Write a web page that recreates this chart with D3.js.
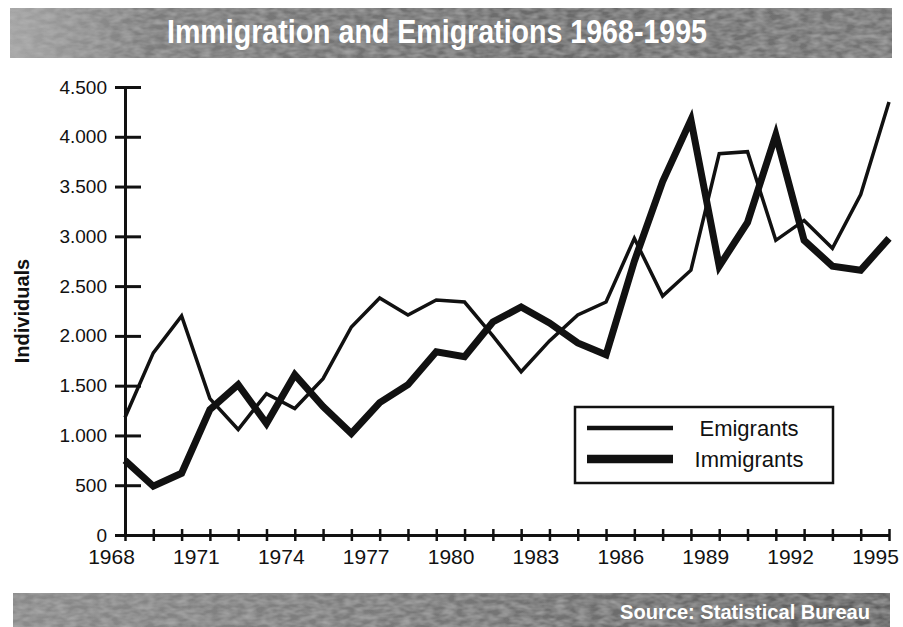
<!DOCTYPE html>
<html>
<head>
<meta charset="utf-8">
<script src="https://cdn.jsdelivr.net/npm/d3@7/dist/d3.min.js"></script>
<style>
  body { margin: 0; background: #fff; }
  svg { display: block; }
  text { font-family: "Liberation Sans", Arial, Helvetica, sans-serif; }
</style>
</head>
<body>
<svg id="chart" width="903" height="627"></svg>
<script>
// Yearly counts of people leaving and arriving, 1968–1995
const years = [1968, 1969, 1970, 1971, 1972, 1973, 1974, 1975, 1976, 1977,
               1978, 1979, 1980, 1981, 1982, 1983, 1984, 1985, 1986, 1987,
               1988, 1989, 1990, 1991, 1992, 1993, 1994, 1995];
const emigrants = [1180, 1830, 2200, 1370, 1060, 1420, 1270, 1570, 2090, 2380,
                   2210, 2360, 2340, 2000, 1640, 1950, 2210, 2340, 2980, 2400,
                   2660, 3830, 3850, 2960, 3160, 2880, 3420, 4350];
const immigrants = [750, 490, 620, 1260, 1510, 1120, 1610, 1290, 1020, 1330,
                    1510, 1840, 1790, 2140, 2290, 2130, 1930, 1810, 2750, 3550,
                    4170, 2700, 3140, 4020, 2960, 2700, 2660, 2980];
const yTicks = [0, 500, 1000, 1500, 2000, 2500, 3000, 3500, 4000, 4500];
const yTickLabels = ["0", "500", "1.000", "1.500", "2.000", "2.500", "3.000", "3.500", "4.000", "4.500"];
const xLabelYears = [1968, 1971, 1974, 1977, 1980, 1983, 1986, 1989, 1992, 1995];
const seriesNames = ["Emigrants", "Immigrants"];
const titleText = "Immigration and Emigrations 1968-1995";
const sourceText = "Source: Statistical Bureau";
const axisTitle = "Individuals";

const svg = d3.select("#chart");
svg.append("rect").attr("width", 903).attr("height", 627).attr("fill", "#fff");

// ---- banner styling: grey gradient with a mottled print texture
const defs = svg.append("defs");
const topGrad = defs.append("linearGradient").attr("id", "topGrad");
topGrad.append("stop").attr("offset", "0%").attr("stop-color", "#a4a4a4");
topGrad.append("stop").attr("offset", "16%").attr("stop-color", "#7c7c7c");
topGrad.append("stop").attr("offset", "60%").attr("stop-color", "#6a6a6a");
topGrad.append("stop").attr("offset", "100%").attr("stop-color", "#747474");
const botGrad = defs.append("linearGradient").attr("id", "botGrad");
botGrad.append("stop").attr("offset", "0%").attr("stop-color", "#8a8a8a");
botGrad.append("stop").attr("offset", "50%").attr("stop-color", "#777");
botGrad.append("stop").attr("offset", "100%").attr("stop-color", "#5c5c5c");
const grain = defs.append("filter").attr("id", "grain").attr("x", 0).attr("y", 0).attr("width", 1).attr("height", 1);
grain.append("feTurbulence").attr("type", "fractalNoise").attr("baseFrequency", "0.09 0.2").attr("numOctaves", 2).attr("seed", 4).attr("result", "n");
grain.append("feColorMatrix").attr("in", "n").attr("type", "matrix")
  .attr("values", "0 0 0 0 0.5  0 0 0 0 0.5  0 0 0 0 0.5  0.9 0 0 0 -0.25").attr("result", "m");
grain.append("feComposite").attr("in", "m").attr("in2", "SourceGraphic").attr("operator", "in").attr("result", "t");
grain.append("feMerge").call(m => { m.append("feMergeNode").attr("in", "SourceGraphic"); m.append("feMergeNode").attr("in", "t"); });

svg.append("rect").attr("x", 10).attr("y", 8).attr("width", 882).attr("height", 50)
  .attr("fill", "url(#topGrad)").attr("filter", "url(#grain)");
svg.append("text").attr("x", 437).attr("y", 43).attr("text-anchor", "middle")
  .attr("font-size", 34).attr("font-weight", "bold").attr("fill", "#fff")
  .attr("textLength", 540).attr("lengthAdjust", "spacingAndGlyphs")
  .text(titleText);

svg.append("rect").attr("x", 13).attr("y", 593).attr("width", 877).attr("height", 34)
  .attr("fill", "url(#botGrad)").attr("filter", "url(#grain)");
svg.append("text").attr("x", 870).attr("y", 619).attr("text-anchor", "end")
  .attr("font-size", 20).attr("font-weight", "bold").attr("fill", "#fff")
  .attr("textLength", 250).attr("lengthAdjust", "spacingAndGlyphs")
  .text(sourceText);

// ---- scales
const x = d3.scaleLinear().domain([1968, 1995]).range([125, 889]);
const y = d3.scaleLinear().domain([0, 4500]).range([535, 87]);

// ---- y axis: ticks cross the axis line, mostly toward the plot
const yAxis = svg.append("g").attr("transform", `translate(${x(1968)},0)`)
  .call(d3.axisLeft(y).tickValues(yTicks).tickSizeOuter(0)
    .tickFormat((d, i) => yTickLabels[i]));
yAxis.select(".domain").attr("stroke", "#111").attr("stroke-width", 3);
yAxis.selectAll(".tick line").attr("x1", 16).attr("x2", -10).attr("stroke", "#111").attr("stroke-width", 3);
yAxis.selectAll(".tick text").attr("x", -18).attr("font-size", 19).attr("fill", "#111")
  .style("font-family", "\"Liberation Sans\", Arial, sans-serif");

// ---- x axis: a tick every year, a label every third year
const xAxis = svg.append("g").attr("transform", `translate(0,${y(0)})`)
  .call(d3.axisBottom(x).tickValues(years).tickSizeOuter(0)
    .tickFormat(d => xLabelYears.includes(d) ? String(d) : ""));
xAxis.select(".domain").attr("stroke", "#111").attr("stroke-width", 3);
xAxis.selectAll(".tick line").attr("y1", -6).attr("y2", 6).attr("stroke", "#111").attr("stroke-width", 2.5);
xAxis.selectAll(".tick text").attr("y", 14).attr("dx", -14).attr("font-size", 21).attr("fill", "#111")
  .style("font-family", "\"Liberation Sans\", Arial, sans-serif");

svg.append("text").attr("transform", `translate(29,311) rotate(-90)`).attr("text-anchor", "middle")
  .attr("font-size", 20).attr("font-weight", "bold").attr("fill", "#111").text(axisTitle);

// ---- series lines
const line = d3.line().x((d, i) => x(years[i])).y(d => y(d));
svg.append("path").datum(emigrants).attr("d", line)
  .attr("fill", "none").attr("stroke", "#111").attr("stroke-width", 3.5).attr("stroke-linejoin", "miter");
svg.append("path").datum(immigrants).attr("d", line)
  .attr("fill", "none").attr("stroke", "#111").attr("stroke-width", 7).attr("stroke-linejoin", "miter");

// ---- legend
const lg = svg.append("g").attr("transform", "translate(575,407)");
lg.append("rect").attr("width", 258).attr("height", 76).attr("fill", "#fff")
  .attr("stroke", "#111").attr("stroke-width", 2.5);
const legendWidths = [4.5, 8.5];
seriesNames.forEach((name, i) => {
  const ly = 21 + i * 31;
  lg.append("line").attr("x1", 12).attr("x2", 98).attr("y1", ly).attr("y2", ly)
    .attr("stroke", "#111").attr("stroke-width", legendWidths[i]);
  lg.append("text").attr("x", 174).attr("y", ly + 8).attr("text-anchor", "middle")
    .attr("font-size", 22).attr("fill", "#111").text(name);
});
</script>
</body>
</html>
